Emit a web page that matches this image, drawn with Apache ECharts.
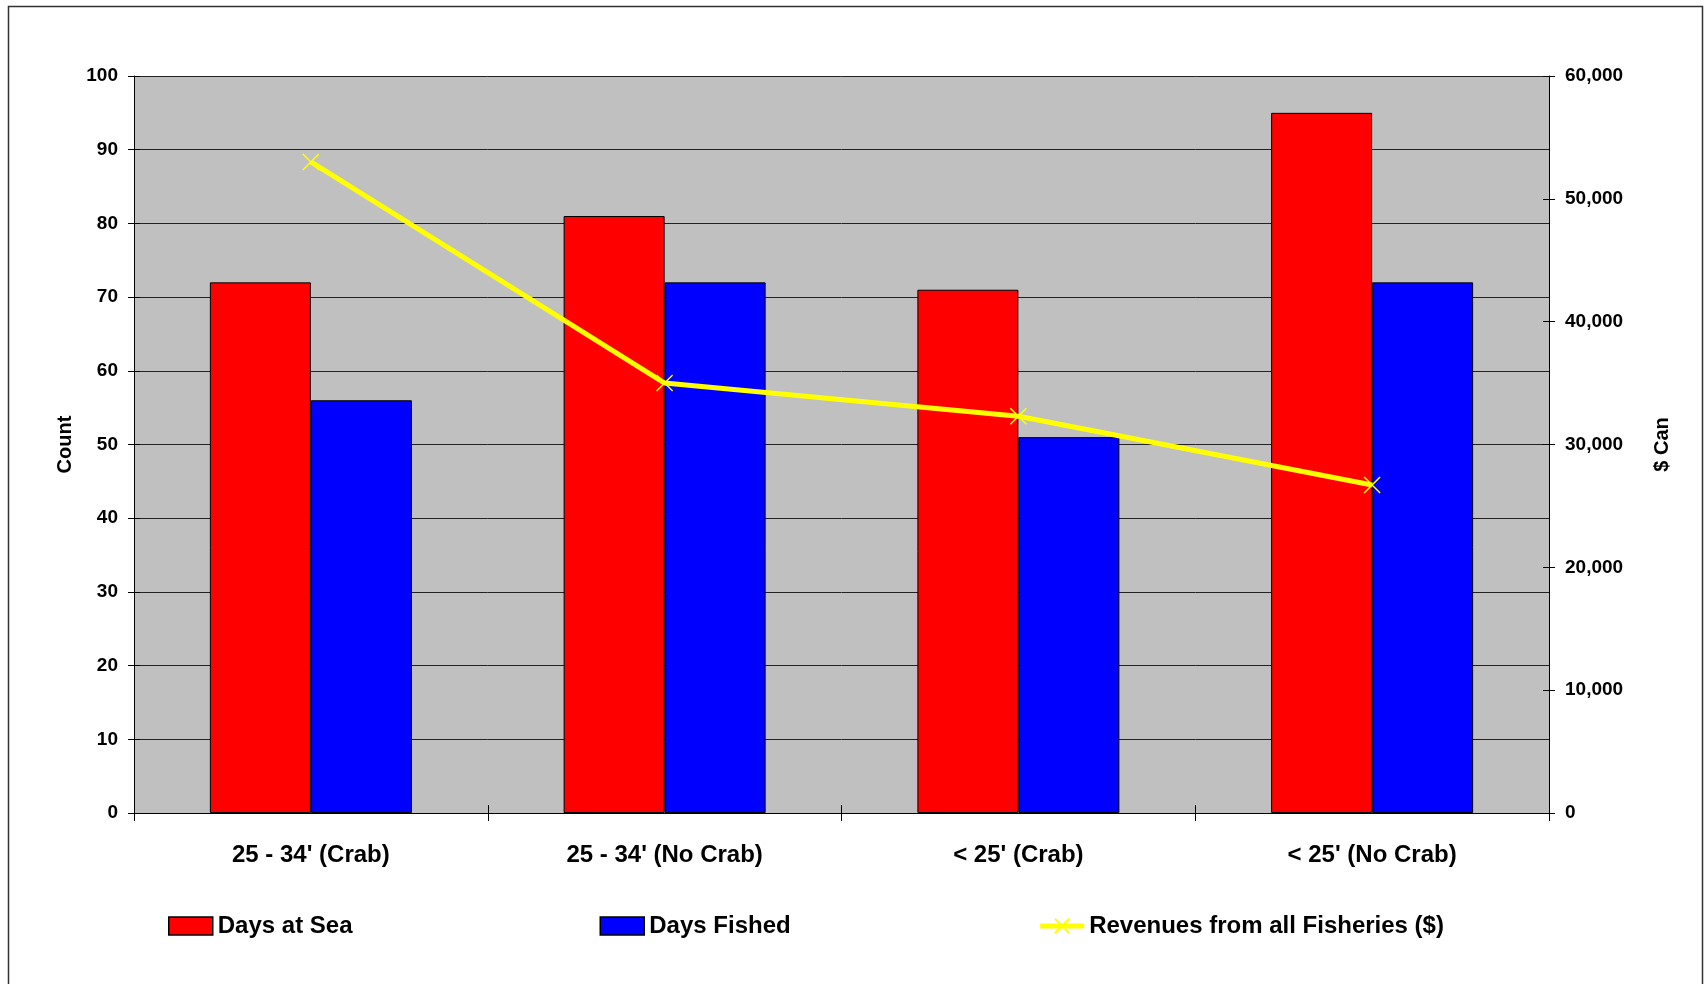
<!DOCTYPE html>
<html>
<head>
<meta charset="utf-8">
<script src="https://cdn.jsdelivr.net/npm/echarts@6/dist/echarts.min.js"></script>
<style>
  html, body { margin: 0; padding: 0; background: #fff; }
  #chart { width: 1704px; height: 984px; }
</style>
</head>
<body>
<div id="chart"></div>
<script>
// data
const categories = ["25 - 34' (Crab)", "25 - 34' (No Crab)", "< 25' (Crab)", "< 25' (No Crab)"];
const daysAtSea = [72, 81, 71, 95];
const daysFished = [56, 72, 51, 72];
const revenues = [53000, 35000, 32300, 26700];

const font = "'Liberation Sans', Arial, sans-serif";
const crossMark = "path://M0,0L10,10M10,0L0,10";

const chart = echarts.init(document.getElementById("chart"));

const commas = v => Number(v).toLocaleString("en-US");

chart.setOption({
  animation: false,
  backgroundColor: "#fff",
  textStyle: { fontFamily: font },
  graphic: [
    {
      type: "rect",
      shape: { x: 8.5, y: 6.5, width: 1694, height: 1000 },
      style: { fill: "none", stroke: "#333", lineWidth: 1.5 },
      silent: true
    }
  ],
  grid: {
    left: 134,
    right: 155,
    top: 76,
    bottom: 171,
    show: true,
    backgroundColor: "#c0c0c0",
    borderWidth: 0
  },
  legend: {
    left: 163,
    top: 909,
    itemWidth: 44,
    itemHeight: 18,
    itemGap: 247,
    textStyle: { fontFamily: font, fontWeight: "bold", fontSize: 24, color: "#000" },
    data: [
      { name: "Days at Sea", icon: "rect", itemStyle: { borderColor: "#000", borderWidth: 1.5 } },
      { name: "Days Fished", icon: "rect", itemStyle: { borderColor: "#000", borderWidth: 1.5 } },
      { name: "Revenues from all Fisheries ($)", lineStyle: { width: 5, color: "#ffff00" } }
    ]
  },
  xAxis: [
    {
      type: "category",
      data: categories,
      axisLine: { lineStyle: { color: "#000", width: 1 } },
      axisTick: { show: true, length: 8, lineStyle: { color: "#000" } },
      axisLabel: {
        margin: 30,
        color: "#000",
        fontFamily: font,
        fontWeight: "bold",
        fontSize: 24
      }
    },
    {
      // inner half of the crossing ticks
      type: "category",
      data: categories,
      position: "bottom",
      axisLine: { show: false },
      axisTick: { show: true, inside: true, length: 8, lineStyle: { color: "#000" } },
      axisLabel: { show: false },
      splitLine: { show: false }
    }
  ],
  yAxis: [
    {
      type: "value",
      name: "Count",
      nameLocation: "middle",
      nameGap: 58,
      nameTextStyle: { color: "#000", fontFamily: font, fontWeight: "bold", fontSize: 20 },
      min: 0,
      max: 100,
      interval: 10,
      position: "left",
      axisLine: { show: true, lineStyle: { color: "#000" } },
      axisTick: { show: true, length: 6, lineStyle: { color: "#000" } },
      axisLabel: { margin: 16, color: "#000", fontFamily: font, fontWeight: "bold", fontSize: 19 },
      splitLine: { show: true, lineStyle: { color: "#222", width: 1 } }
    },
    {
      type: "value",
      name: "$ Can",
      nameLocation: "middle",
      nameGap: 103,
      nameTextStyle: { color: "#000", fontFamily: font, fontWeight: "bold", fontSize: 20 },
      min: 0,
      max: 60000,
      interval: 10000,
      position: "right",
      axisLine: { show: true, lineStyle: { color: "#000" } },
      axisTick: { show: true, length: 6, lineStyle: { color: "#000" } },
      axisLabel: {
        margin: 16,
        color: "#000",
        fontFamily: font,
        fontWeight: "bold",
        fontSize: 19,
        formatter: commas
      },
      splitLine: { show: false }
    },
    {
      type: "value",
      min: 0,
      max: 100,
      interval: 10,
      position: "left",
      axisLine: { show: false },
      axisTick: { show: true, inside: true, length: 6, lineStyle: { color: "#000" } },
      axisLabel: { show: false },
      splitLine: { show: false }
    },
    {
      type: "value",
      min: 0,
      max: 60000,
      interval: 10000,
      position: "right",
      axisLine: { show: false },
      axisTick: { show: true, inside: true, length: 6, lineStyle: { color: "#000" } },
      axisLabel: { show: false },
      splitLine: { show: false }
    }
  ],
  series: [
    {
      name: "Days at Sea",
      type: "bar",
      barWidth: 101,
      barGap: "0%",
      data: daysAtSea,
      itemStyle: { color: "#ff0000", borderColor: "#000", borderWidth: 1 }
    },
    {
      name: "Days Fished",
      type: "bar",
      barWidth: 101,
      barGap: "0%",
      data: daysFished,
      itemStyle: { color: "#0000ff", borderColor: "#000", borderWidth: 1 }
    },
    {
      name: "Revenues from all Fisheries ($)",
      type: "line",
      yAxisIndex: 1,
      data: revenues,
      symbol: crossMark,
      symbolSize: 16,
      showSymbol: true,
      lineStyle: { color: "#ffff00", width: 5 },
      itemStyle: { color: "#ffff00", borderColor: "#ffff00", borderWidth: 1.5 },
      z: 5
    }
  ]
});
</script>
</body>
</html>
